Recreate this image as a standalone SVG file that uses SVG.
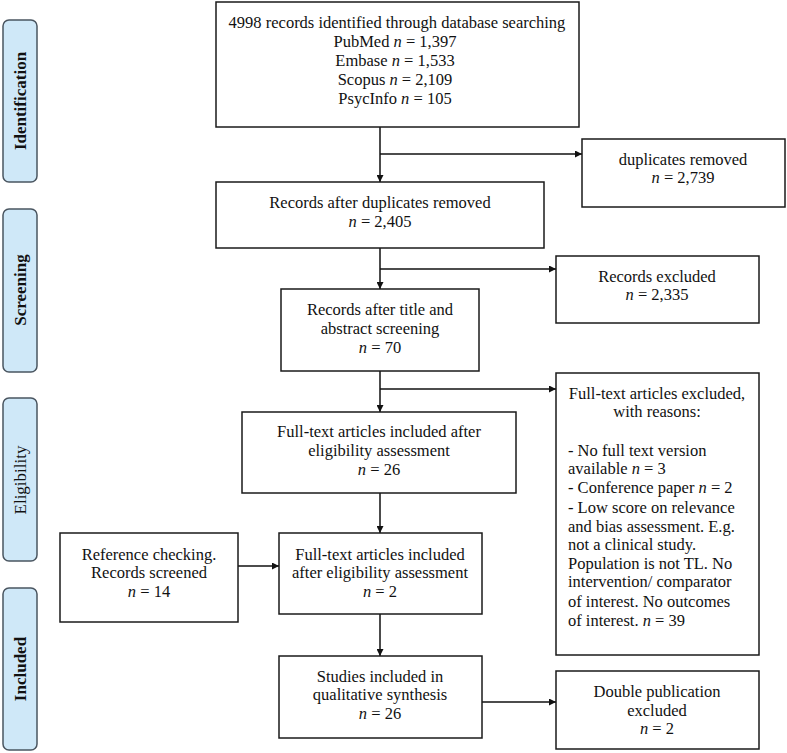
<svg xmlns="http://www.w3.org/2000/svg" width="787" height="753" viewBox="0 0 787 753">
<style>
.box{fill:#fff;stroke:#1a1a1a;stroke-width:1.5}
.side{fill:#cfe8f8;stroke:#4a5560;stroke-width:1.5}
.t{font-family:"Liberation Serif","Times New Roman",serif;font-size:16.5px;fill:#111}
.c{text-anchor:middle}
.sl{font-family:"Liberation Serif","Times New Roman",serif;font-size:17px;font-weight:bold;fill:#111;text-anchor:middle}
.i{font-style:italic}
.ln{fill:none;stroke:#111;stroke-width:1.5}
</style>
<defs>
<marker id="ah" viewBox="0 0 10 10" refX="10" refY="5" markerWidth="7" markerHeight="7" markerUnits="userSpaceOnUse" orient="auto">
<path d="M0,0 L10,5 L0,10 z" fill="#111"/>
</marker>
</defs>
<rect width="787" height="753" fill="#fff"/>

<g id="side-identification"><rect class="side" x="3" y="20" width="34" height="162" rx="6"/><text class="sl" transform="translate(26,101) rotate(-90)">Identification</text></g>
<g id="side-screening"><rect class="side" x="3" y="209" width="34" height="163" rx="6"/><text class="sl" transform="translate(26,290) rotate(-90)">Screening</text></g>
<g id="side-eligibility"><rect class="side" x="3" y="398" width="34" height="163" rx="6"/><text class="sl" style="font-weight:normal" transform="translate(26,480) rotate(-90)">Eligibility</text></g>
<g id="side-included"><rect class="side" x="3" y="588" width="34" height="162" rx="6"/><text class="sl" transform="translate(26,669) rotate(-90)">Included</text></g>

<g id="connectors">
<line class="ln" x1="380" y1="127" x2="380" y2="182" marker-end="url(#ah)"/>
<line class="ln" x1="380" y1="154" x2="582" y2="154" marker-end="url(#ah)"/>
<line class="ln" x1="380" y1="248" x2="380" y2="289" marker-end="url(#ah)"/>
<line class="ln" x1="380" y1="269" x2="556" y2="269" marker-end="url(#ah)"/>
<line class="ln" x1="380" y1="371" x2="380" y2="412" marker-end="url(#ah)"/>
<line class="ln" x1="380" y1="389" x2="556" y2="389" marker-end="url(#ah)"/>
<line class="ln" x1="380" y1="493" x2="380" y2="533" marker-end="url(#ah)"/>
<line class="ln" x1="238" y1="566" x2="279" y2="566" marker-end="url(#ah)"/>
<line class="ln" x1="380" y1="614" x2="380" y2="656" marker-end="url(#ah)"/>
<line class="ln" x1="482" y1="702" x2="556" y2="702" marker-end="url(#ah)"/>
</g>

<g id="identified">
<rect class="box" x="216" y="2" width="363" height="125"/>
<text class="t c" x="397" y="28">4998 records identified through database searching</text>
<text class="t c" x="395" y="47">PubMed <tspan class="i">n</tspan> = 1,397</text>
<text class="t c" x="395" y="66">Embase <tspan class="i">n</tspan> = 1,533</text>
<text class="t c" x="395" y="85">Scopus <tspan class="i">n</tspan> = 2,109</text>
<text class="t c" x="395" y="104">PsycInfo <tspan class="i">n</tspan> = 105</text>
</g>

<g id="duplicates">
<rect class="box" x="582" y="139" width="203" height="68"/>
<text class="t c" x="683" y="165">duplicates removed</text>
<text class="t c" x="683" y="183"><tspan class="i">n</tspan> = 2,739</text>
</g>

<g id="after-duplicates">
<rect class="box" x="216" y="182" width="328" height="66"/>
<text class="t c" x="380" y="208">Records after duplicates removed</text>
<text class="t c" x="380" y="227"><tspan class="i">n</tspan> = 2,405</text>
</g>

<g id="excluded">
<rect class="box" x="556" y="256" width="203" height="67"/>
<text class="t c" x="657" y="282">Records excluded</text>
<text class="t c" x="657" y="300"><tspan class="i">n</tspan> = 2,335</text>
</g>

<g id="screened">
<rect class="box" x="281" y="289" width="198" height="82"/>
<text class="t c" x="380" y="315">Records after title and</text>
<text class="t c" x="380" y="334">abstract screening</text>
<text class="t c" x="380" y="353"><tspan class="i">n</tspan> = 70</text>
</g>

<g id="fulltext-excluded">
<rect class="box" x="556" y="373" width="203" height="282"/>
<text class="t c" x="657" y="399">Full-text articles excluded,</text>
<text class="t c" x="657" y="417">with reasons:</text>
<text class="t" x="568" y="456">- No full text version</text>
<text class="t" x="568" y="474">available  <tspan class="i">n</tspan> = 3</text>
<text class="t" x="568" y="493">- Conference paper <tspan class="i">n</tspan> = 2</text>
<text class="t" x="568" y="513">- Low score on relevance</text>
<text class="t" x="568" y="532">and bias assessment. E.g.</text>
<text class="t" x="568" y="550">not a clinical study.</text>
<text class="t" x="568" y="569">Population is not TL. No</text>
<text class="t" x="568" y="587">intervention/ comparator</text>
<text class="t" x="568" y="607">of interest. No outcomes</text>
<text class="t" x="568" y="626">of interest. <tspan class="i">n</tspan> = 39</text>
</g>

<g id="eligible">
<rect class="box" x="242" y="412" width="274" height="81"/>
<text class="t c" x="379" y="437">Full-text articles included after</text>
<text class="t c" x="379" y="456">eligibility assessment</text>
<text class="t c" x="379" y="475"><tspan class="i">n</tspan> = 26</text>
</g>

<g id="reference">
<rect class="box" x="60" y="533" width="178" height="89"/>
<text class="t c" x="149" y="560">Reference checking.</text>
<text class="t c" x="149" y="578">Records screened</text>
<text class="t c" x="149" y="597"><tspan class="i">n</tspan> = 14</text>
</g>

<g id="eligible-2">
<rect class="box" x="279" y="533" width="203" height="81"/>
<text class="t c" x="380" y="560">Full-text articles included</text>
<text class="t c" x="380" y="578">after eligibility  assessment</text>
<text class="t c" x="380" y="597"><tspan class="i">n</tspan> = 2</text>
</g>

<g id="included">
<rect class="box" x="279" y="656" width="203" height="82"/>
<text class="t c" x="380" y="682">Studies included in</text>
<text class="t c" x="380" y="700">qualitative synthesis</text>
<text class="t c" x="380" y="719"><tspan class="i">n</tspan> = 26</text>
</g>

<g id="double">
<rect class="box" x="556" y="671" width="203" height="78"/>
<text class="t c" x="657" y="697">Double publication</text>
<text class="t c" x="657" y="716">excluded</text>
<text class="t c" x="657" y="734"><tspan class="i">n</tspan> = 2</text>
</g>
</svg>
